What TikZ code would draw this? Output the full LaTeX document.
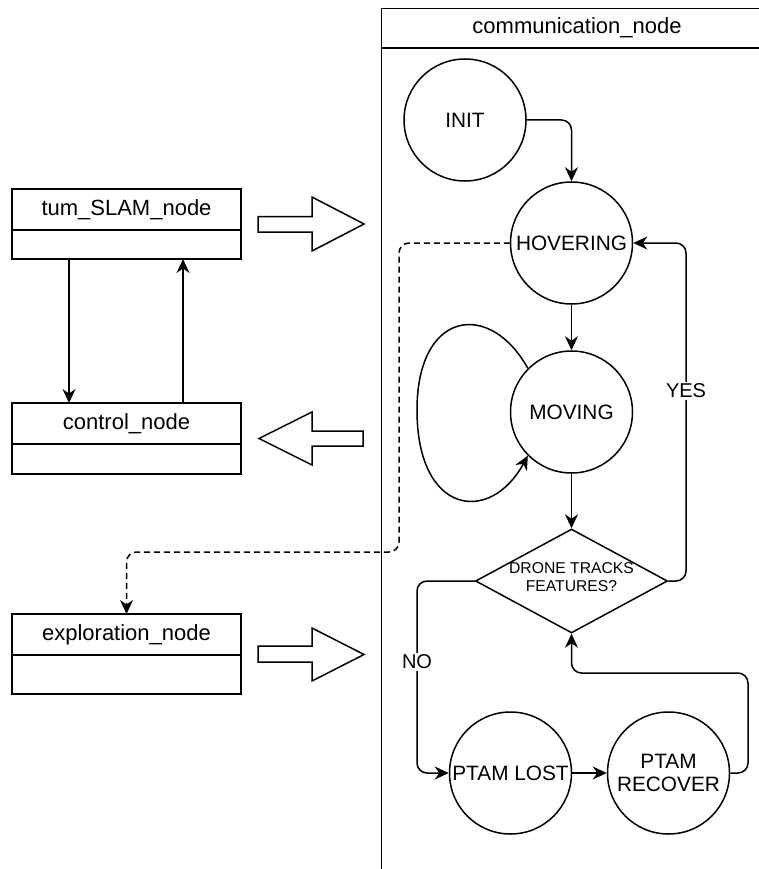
\documentclass[tikz,border=0pt]{standalone}
\usepackage{fontspec}
\setmainfont{Liberation Sans}
\usetikzlibrary{arrows.meta,shapes.geometric,calc}
\begin{document}
\begin{tikzpicture}[x=1pt,y=-1pt,
  line width=1.5pt,
  tip/.style={-{Stealth[length=14pt,width=13pt,inset=4.5pt]}},
  conn/.style={draw,tip,rounded corners=10pt},
  state/.style={circle,draw,minimum size=122pt,inner sep=0pt,align=center,
    font=\fontsize{20.8}{23.5}\selectfont},
  classhead/.style={draw,minimum width=229pt,minimum height=41pt,inner sep=0pt,
    outer sep=0pt,font=\fontsize{22}{25}\selectfont},
  classbody/.style={draw,minimum width=229pt,inner sep=0pt,outer sep=0pt,anchor=north},
  lbl/.style={fill=white,inner sep=1.5pt,font=\fontsize{20}{23}\selectfont},
  block/.style={draw,fill=white,line join=miter}
]
\useasboundingbox (0,0) rectangle (758,869);

% swimlane of the communication node (open to the right and bottom)
\draw (381.5,880) -- (381.5,8.5) -- (775,8.5);
\draw (381.5,48) -- (775,48);
\node[font=\fontsize{22}{25}\selectfont] (lanehead) at (577,28) {communication\_node};

% class boxes on the left
\node[classhead] (slam) at (126.5,209.5) {tum\_SLAM\_node};
\node[classbody,minimum height=29pt] (slambody) at (slam.south) {};
\node[classhead] (ctrl) at (126.5,423.5) {control\_node};
\node[classbody,minimum height=30pt] (ctrlbody) at (ctrl.south) {};
\node[classhead] (expl) at (126.5,634.5) {exploration\_node};
\node[classbody,minimum height=39pt] (explbody) at (expl.south) {};

\draw[tip] ($(slambody.south west)+(57,0)$) -- ($(ctrl.north west)+(57,0)$);
\draw[tip] ($(ctrl.north west)+(171,0)$) -- ($(slambody.south west)+(171,0)$);

% block arrows between the lanes
\draw[block] (258,216.5) -- (312,216.5) -- (312,197) -- (364,224) -- (312,251)
  -- (312,232) -- (258,232) -- cycle;
\draw[block] (363,431) -- (312,431) -- (312,412) -- (259,438.5) -- (312,465)
  -- (312,446) -- (363,446) -- cycle;
\draw[block] (258,646) -- (312,646) -- (312,628) -- (364,654.5) -- (312,681)
  -- (312,662) -- (258,662) -- cycle;

% state machine
\node[state] (init) at (465,120) {INIT};
\node[state] (hover) at (571.5,243) {HOVERING};
\node[state] (moving) at (571.5,412) {MOVING};
\node[diamond,draw,aspect=1.85,minimum width=192pt,minimum height=104pt,inner sep=0pt] (dec) at (571.5,581) {};
\node[font=\fontsize{15.7}{17.7}\selectfont,align=center] (dectext) at (571.5,577) {DRONE TRACKS\\FEATURES?};
\node[state] (lost) at (510.5,773) {PTAM LOST};
\node[state] (recover) at (668.5,773) {PTAM\\RECOVER};

\coordinate (yesbend) at (686,243);
\coordinate (nobend) at (417,773);
\coordinate (recbend) at (748,673);
\coordinate (dashbend) at (399,552);

\draw[conn] (init.east) -| (hover.north);
\draw[conn] (hover.south) -- (moving.north);
\draw[tip] (moving.135) .. controls (490,300) and (417,310) .. (417,410)
  .. controls (417,515) and (490,525) .. (moving.225);
\draw[conn] (moving.south) -- (dec.north);
\draw[conn] (dec.east) -| (yesbend) -- (hover.east);
\node[lbl] (yeslbl) at (686,391) {YES};
\draw[conn] (dec.west) -| (nobend) -- (lost.west);
\node[lbl] (nolbl) at (417,662) {NO};
\draw[conn] (lost.east) -- (recover.west);
\draw[conn] (recover.east) -| (recbend) -| (dec.south);

% dashed link from hovering to the exploration node
\draw[conn,dash pattern=on 6pt off 4pt] (hover.west) -| (dashbend) -| (expl.north);
\end{tikzpicture}
\end{document}
